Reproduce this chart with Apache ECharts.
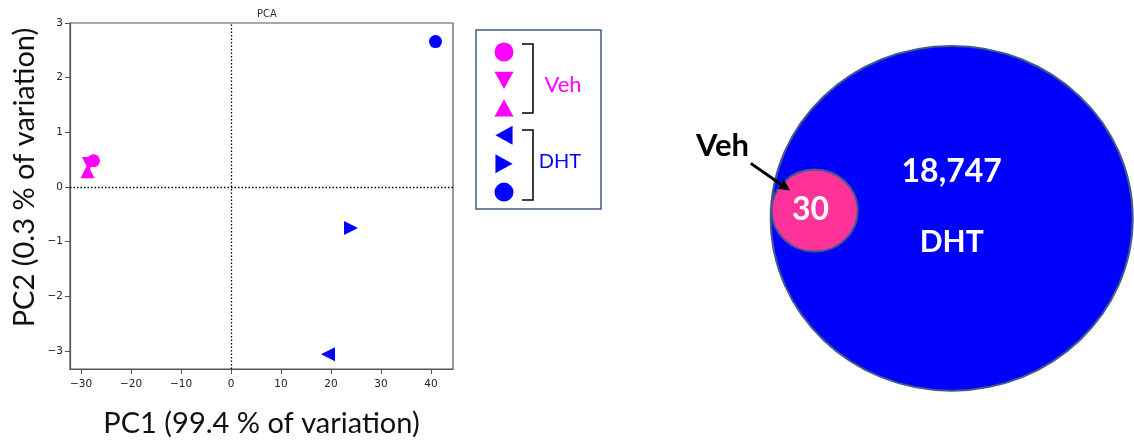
<!DOCTYPE html>
<html>
<head>
<meta charset="utf-8">
<script src="https://cdn.jsdelivr.net/npm/echarts@6/dist/echarts.min.js"></script>
<style>html,body{margin:0;padding:0;background:#fff;}#c{width:1134px;height:446px;}</style>
</head>
<body>
<div id="c"></div>
<script>
// ---- PCA data ----
const groups = ['Veh', 'Veh', 'Veh', 'DHT', 'DHT', 'DHT'];
const sampleNames = ['Veh 1', 'Veh 2', 'Veh 3', 'DHT 1', 'DHT 2', 'DHT 3'];
const pc1 = [-27.5, -28.4, -28.7, 19.4, 24.0, 40.9];
const pc2 = [0.48, 0.42, 0.29, -3.06, -0.75, 2.66];
const xTicks = [-30, -20, -10, 0, 10, 20, 30, 40];
const yTicks = [-3, -2, -1, 0, 1, 2, 3];
// ---- Venn data ----
const vennSets = ['DHT', 'Veh'];
const vennCounts = [18747, 30];

// ---- styles / layout ----
const groupColor = { Veh: '#ff00ff', DHT: '#0000ff' };
const symbols = [
  'circle',
  'path://M0,0 L10,0 L5,9 Z',
  'path://M5,0 L10,9 L0,9 Z',
  'path://M10,0 L10,10 L1,5 Z',
  'path://M0,0 L0,10 L9,5 Z',
  'circle'
];
const symSizes = [13, 14, 14, 14, 14, 13];
const vennShapes = [
  { c: [0, 0], r: 1, fill: '#0000ff', countAt: [0, 0.27], nameAt: [0, -0.137], nameColor: '#ffffff', countSize: 32, nameSize: 30 },
  { c: [-0.757, 0.045], r: 0.238, fill: '#ff3399', countAt: [-0.78, 0.048], nameAt: [-1.266, 0.419], nameColor: '#000000', countSize: 32, nameSize: 31,
    arrow: [[-1.11, 0.319], [-0.893, 0.161]] }
];
const calib = 'Lato, "Open Sans", sans-serif';
const mpl = '"DejaVu Sans", sans-serif';
const minus = v => String(v).replace('-', '\u2212');

const chart = echarts.init(document.getElementById('c'), null, { renderer: 'canvas' });

const scatterSeries = sampleNames.map((nm, i) => ({
  name: nm,
  type: 'scatter',
  xAxisIndex: 0, yAxisIndex: 0,
  symbol: symbols[i],
  symbolSize: symSizes[i],
  itemStyle: { color: groupColor[groups[i]], opacity: 1 },
  data: [[pc1[i], pc2[i]]],
  z: 5,
  silent: true
}));
scatterSeries[0].markLine = {
  silent: true,
  symbol: 'none',
  label: { show: false },
  lineStyle: { color: '#000', type: [1.5, 2], width: 1.3 },
  data: [{ xAxis: 0 }, { yAxis: 0 }],
  z: 2
};

const vennSeries = {
  type: 'custom',
  xAxisIndex: 1, yAxisIndex: 1,
  clip: false,
  silent: true,
  data: vennSets.map((s, i) => ({ name: s, value: [vennShapes[i].c[0], vennShapes[i].c[1], vennShapes[i].r, vennCounts[i], i] })),
  renderItem: function (params, api) {
    const i = api.value(4);
    const L = vennShapes[i];
    const p = api.coord([api.value(0), api.value(1)]);
    const sz = api.size([api.value(2), api.value(2)]);
    const children = [{
      type: 'ellipse',
      shape: { cx: p[0], cy: p[1], rx: sz[0], ry: sz[1] },
      style: { fill: L.fill, stroke: '#41598b', lineWidth: 2 }
    }];
    const cp = api.coord(L.countAt);
    children.push({
      type: 'text', x: cp[0], y: cp[1],
      style: { text: api.value(3).toLocaleString('en-US'), fill: '#fff', font: 'bold ' + L.countSize + 'px ' + calib, align: 'center', verticalAlign: 'middle' }
    });
    const np = api.coord(L.nameAt);
    children.push({
      type: 'text', x: np[0], y: np[1],
      style: { text: vennSets[i], fill: L.nameColor, font: 'bold ' + L.nameSize + 'px ' + calib, align: 'center', verticalAlign: 'middle' }
    });
    if (L.arrow) {
      const a = api.coord(L.arrow[0]);
      const b = api.coord(L.arrow[1]);
      const dx = b[0] - a[0], dy = b[1] - a[1];
      const len = Math.sqrt(dx * dx + dy * dy);
      const ux = dx / len, uy = dy / len;
      const hl = 11, hw = 5.5;
      const bx = b[0] - ux * hl, by = b[1] - uy * hl;
      children.push({
        type: 'line',
        shape: { x1: a[0], y1: a[1], x2: bx + ux * 2, y2: by + uy * 2 },
        style: { stroke: '#000', lineWidth: 3 }
      });
      children.push({
        type: 'polygon',
        shape: { points: [[b[0], b[1]], [bx - uy * hw, by + ux * hw], [bx + uy * hw, by - ux * hw]] },
        style: { fill: '#000' }
      });
    }
    return { type: 'group', children: children };
  }
};

const option = {
  backgroundColor: '#ffffff',
  animation: false,
  title: {
    text: 'PCA', left: 262, top: 4, textAlign: 'center',
    textStyle: { fontFamily: mpl, fontSize: 10, fontWeight: 'normal', color: '#333' }
  },
  legend: {
    data: sampleNames,
    orient: 'vertical',
    left: 494.5, top: 42.5,
    padding: 0,
    itemWidth: 19, itemHeight: 19, itemGap: 9.4,
    selectedMode: false,
    formatter: () => '',
    textStyle: { fontSize: 1 }
  },
  graphic: [
    { type: 'rect', shape: { x: 476, y: 30, width: 125, height: 179 }, style: { fill: 'none', stroke: '#41598b', lineWidth: 1.5 }, silent: true },
    { type: 'polyline', shape: { points: [[522, 44], [533, 44], [533, 113], [522, 113]] }, style: { stroke: '#000', lineWidth: 1.5, fill: 'none' }, silent: true },
    { type: 'polyline', shape: { points: [[522, 130], [533, 130], [533, 200], [522, 200]] }, style: { stroke: '#000', lineWidth: 1.5, fill: 'none' }, silent: true },
    { type: 'text', x: 563, y: 85, style: { text: 'Veh', fill: '#ff00ff', font: '22px ' + calib, align: 'center', verticalAlign: 'middle' }, silent: true },
    { type: 'text', x: 560, y: 162, style: { text: 'DHT', fill: '#0000ff', font: '20px ' + calib, align: 'center', verticalAlign: 'middle' }, silent: true }
  ],
  grid: [
    { left: 70, top: 23, width: 383, height: 346, show: true, borderColor: '#555', borderWidth: 1.2, backgroundColor: 'transparent' },
    { left: 770.7, top: 46, width: 362, height: 344.7, show: false }
  ],
  xAxis: [
    {
      type: 'value', gridIndex: 0, min: -32.2, max: 44.4, minInterval: 10, maxInterval: 10,
      name: 'PC1 (99.4 % of variation)', nameLocation: 'middle', nameGap: 40,
      nameTextStyle: { fontFamily: calib, fontSize: 29, color: '#111' },
      axisLine: { show: true, onZero: false, lineStyle: { color: '#555', width: 1.2 } },
      axisTick: { show: true, length: 5, customValues: xTicks, lineStyle: { color: '#555' } },
      splitLine: { show: false },
      axisLabel: {
        fontFamily: mpl, fontSize: 10.5, color: '#222', margin: 10, customValues: xTicks,
        formatter: v => minus(v)
      }
    },
    { type: 'value', gridIndex: 1, min: -1, max: 1, show: false }
  ],
  yAxis: [
    {
      type: 'value', gridIndex: 0, min: -3.33, max: 3, minInterval: 1, maxInterval: 1,
      name: 'PC2 (0.3 % of variation)', nameLocation: 'middle', nameGap: 31,
      nameTextStyle: { fontFamily: calib, fontSize: 29, color: '#111', padding: [0, 0, 0, 37] },
      axisLine: { show: true, onZero: false, lineStyle: { color: '#555', width: 1.2 } },
      axisTick: { show: true, length: 5, customValues: yTicks, lineStyle: { color: '#555' } },
      splitLine: { show: false },
      axisLabel: {
        fontFamily: mpl, fontSize: 10.5, color: '#222', margin: 7, customValues: yTicks,
        formatter: v => minus(v)
      }
    },
    { type: 'value', gridIndex: 1, min: -1, max: 1, show: false }
  ],
  series: scatterSeries.concat([vennSeries])
};
chart.setOption(option);
</script>
</body>
</html>
